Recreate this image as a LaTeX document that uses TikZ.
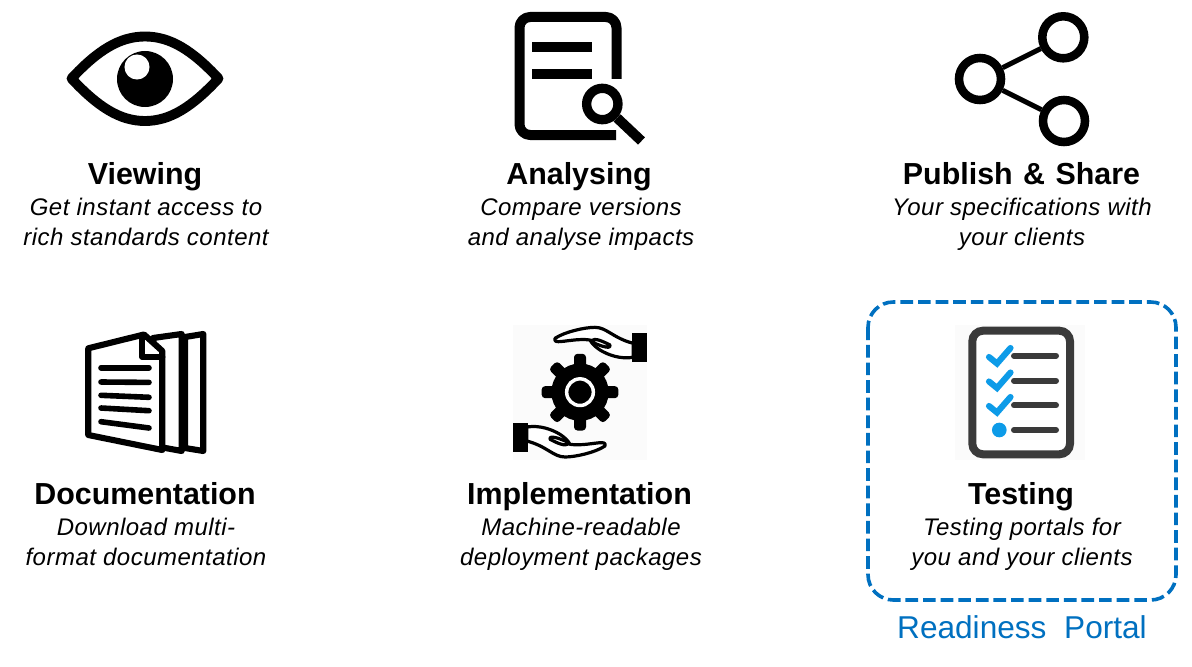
\documentclass[tikz,border=0pt]{standalone}
\usepackage{fontspec}
\setmainfont{Liberation Sans}
\newfontfamily\blurbfont{Liberation Sans}[LetterSpace=2.0]
\definecolor{portal}{HTML}{0070C0}
\definecolor{tick}{HTML}{0D9BE8}
\definecolor{slate}{HTML}{3A3A3A}
\definecolor{pale}{gray}{0.985}
\tikzset{
  heading/.style={anchor=base,inner sep=0pt,font=\fontsize{22.8pt}{26pt}\selectfont\bfseries},
  blurb/.style={anchor=base,inner sep=0pt,font=\fontsize{18pt}{22pt}\blurbfont\selectfont\itshape},
  ink/.style={draw=black,line join=round,line cap=round},
  ring/.style={circle,draw=black,line width=6.4pt,minimum size=31.5pt,inner sep=0pt,fill=white},
  listbar/.style={draw=slate,line width=4.5pt,line cap=round},
  checkmark/.style={draw=tick,line width=4.6pt,line cap=round,line join=miter},
  docline/.style={draw=black,line width=4.2pt,line cap=round},
  handline/.style={draw=black,line width=2.4pt,line join=round,line cap=round,fill=white}
}
\newcommand{\handshape}{%
  \path[handline] (30,55) .. controls (60,35) and (120,22) .. (150,22)
     .. controls (185,22) and (205,55) .. (265,70) -- (265,112)
     .. controls (225,118) and (190,105) .. (165,90)
     .. controls (150,80) and (140,70) .. (135,60)
     .. controls (100,55) and (60,65) .. (40,65)
     .. controls (30,65) and (27,60) .. (30,55) -- cycle;
  \path[handline] (138,62) .. controls (150,52) and (175,65) .. (195,75)
     .. controls (197,85) and (185,82) .. (170,78)
     .. controls (155,72) and (145,70) .. (138,62) -- cycle;
  \fill[black] (260,38) rectangle (305,125);
}
\begin{document}
\begin{tikzpicture}[x=0.75pt,y=-0.75pt]
\useasboundingbox (0,0) rectangle (1192,667);
% background tiles behind two icons
\fill[pale] (513,325) rectangle (647,460);
\fill[pale] (955,325) rectangle (1085,460);

% Eye
\path[ink,line width=7.4pt] (71.5,78.5) .. controls (98,50) and (120,36.5) .. (145,36.5)
   .. controls (170,36.5) and (192,50) .. (218.5,78.5)
   .. controls (192,107) and (170,121) .. (145,121)
   .. controls (120,121) and (98,107) .. (71.5,78.5) -- cycle;
\fill[black] (145,79) circle[radius=21pt];
\fill[white] (137,67) circle[radius=9.4pt];

% Analysing
\path[ink,line width=7.5pt,line cap=butt,rounded corners=8pt] (616.5,79) -- (616.5,17) -- (519.5,17) -- (519.5,135) -- (616,135);
\fill[black] (532.3,41.7) rectangle (592.3,51.7);
\fill[black] (532.3,69.3) rectangle (592.3,79);
\node[circle,draw=white,line width=3pt,minimum size=34pt,inner sep=0pt] (lensgap) at (602.3,104) {};
\node[circle,draw=black,line width=7pt,minimum size=23.5pt,inner sep=0pt,fill=white] (lens) at (602.3,104) {};
\coordinate (handleend) at (641.5,141);
\draw[black,line width=7.5pt] (lens) -- (handleend);

% Share
\node[ring] (hub) at (980,79) {};
\node[ring] (top) at (1063.3,37.3) {};
\node[ring] (bot) at (1064,121) {};
\draw[black,line width=3.8pt] (hub) -- (top);
\draw[black,line width=3.8pt] (hub) -- (bot);

% Documentation
\path[ink,line width=4.6pt,fill=white] (185,337) -- (203.3,334) -- (203.3,451) -- (185,448) -- cycle;
\path[ink,line width=4.6pt,fill=white] (153,338) -- (181.7,334) -- (181.7,451) -- (160,447) -- cycle;
\path[ink,line width=4.6pt,fill=white] (88.3,348.3) -- (144,334.5) -- (162.3,351) -- (162.3,450) -- (88.3,435) -- cycle;
\path[ink,line width=4.6pt] (142,335) -- (142,356.7) -- (162.3,356.7);
\draw[docline] (101,367.7) -- (149,367.7);
\draw[docline] (101,382) -- (149,382.4);
\draw[docline] (101,395.3) -- (149,397.3);
\draw[docline] (101,408) -- (149,410.7);
\draw[docline] (101,421.7) -- (149,428);

% Implementation
\begin{scope}[shift={(545,320)},x=0.25pt,y=-0.25pt]
  \foreach \a in {0,45,...,315}
    \fill[black,rounded corners=2.6pt,rotate around={\a:(105,216.5)}] (165,198.5) rectangle (220,234.5);
  \fill[black] (105,216.5) circle[radius=21.5pt];
  \draw[white,line width=2.6pt] (105,216.5) circle[radius=10pt];
  \handshape
  \begin{scope}[rotate around={180:(105,216.5)}]
    \handshape
  \end{scope}
\end{scope}

% Testing
\path[draw=slate,line width=6pt,rounded corners=8pt,fill=white] (972.3,330.7) rectangle (1070,454.3);
\draw[listbar] (1014,355.7) -- (1056,355.7);
\draw[listbar] (1014,380.7) -- (1056,380.7);
\draw[listbar] (1014,405.3) -- (1056,405.3);
\draw[listbar] (1014,430) -- (1056,430);
\draw[checkmark] (989,357) -- (997,363.5) -- (1010.5,348);
\draw[checkmark] (989,381.5) -- (997,388) -- (1010.5,372.5);
\draw[checkmark] (989,406) -- (997,412.5) -- (1010.5,397);
\fill[tick] (999.3,430) circle[radius=5.5pt];

% Dashed frame
\draw[portal,line width=2.7pt,rounded corners=19pt,dash pattern=on 9.5pt off 3.7pt] (868,302) rectangle (1176,600);

% Texts
\node[heading] (t1) at (145,184) {Viewing};
\node[blurb] (t1a) at (146,215) {Get instant access to};
\node[blurb] (t1b) at (146,245) {rich standards content};
\node[heading] (t2) at (579,184) {Analysing};
\node[blurb] (t2a) at (581,215) {Compare versions};
\node[blurb] (t2b) at (581,245) {and analyse impacts};
\node[heading] (t3) at (1021.5,184) {Publish\hspace{1.5pt} \&\hspace{1.5pt} Share};
\node[blurb] (t3a) at (1022,215) {Your specifications with};
\node[blurb] (t3b) at (1022,245) {your clients};
\node[heading] (t4) at (145,504) {Documentation};
\node[blurb] (t4a) at (146,535) {Download multi-};
\node[blurb] (t4b) at (146,565) {format documentation};
\node[heading] (t5) at (579.5,504) {Implementation};
\node[blurb] (t5a) at (581,535) {Machine-readable};
\node[blurb] (t5b) at (581,565) {deployment packages};
\node[heading] (t6) at (1021,504) {Testing};
\node[blurb] (t6a) at (1022,535) {Testing portals for};
\node[blurb] (t6b) at (1022,565) {you and your clients};
\node[anchor=base,inner sep=0pt,text=portal,font=\fontsize{23.7pt}{28pt}\selectfont] (rp) at (1022,638) {Readiness\hspace{6.7pt} Portal};
\end{tikzpicture}
\end{document}
